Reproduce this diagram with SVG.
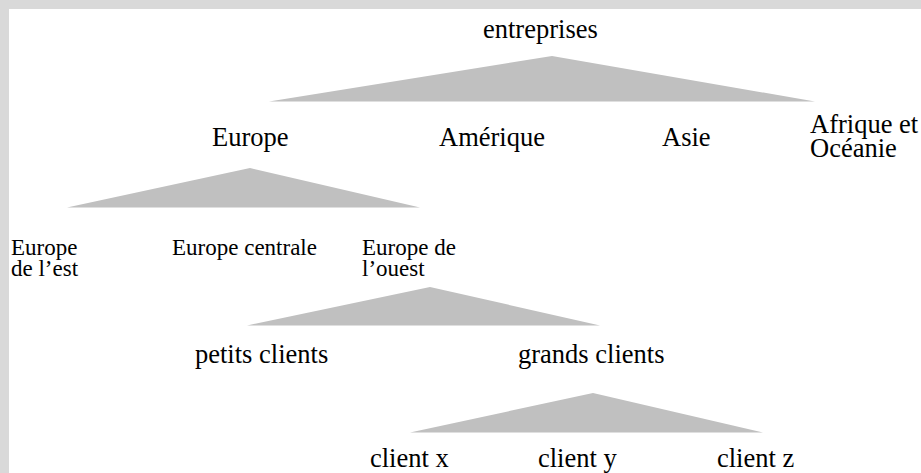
<svg xmlns="http://www.w3.org/2000/svg" width="921" height="473" viewBox="0 0 921 473">
<style>
.bg{fill:#ffffff}
.frame{fill:#d9d9d9}
.tri{fill:#c0c0c0;stroke:none}
.lg{font-family:"Liberation Serif","Times New Roman",serif;font-size:26.5px;fill:#000}
.sm{font-family:"Liberation Serif","Times New Roman",serif;font-size:23px;fill:#000}
</style>
<rect class="bg" x="0" y="0" width="921" height="473"/>
<rect class="frame" x="0" y="0" width="921" height="9"/>
<rect class="frame" x="0" y="0" width="9" height="473"/>
<g id="connectors">
<polygon class="tri" points="552,56 815,101.5 269,101.5"/>
<polygon class="tri" points="250,168 420,207.5 67,207.5"/>
<polygon class="tri" points="430,287 600,325.5 247,325.5"/>
<polygon class="tri" points="593,393 763,432.5 410,432.5"/>
</g>
<g id="n-entreprises"><text class="lg" x="483" y="38">entreprises</text></g>
<g id="n-europe"><text class="lg" x="212" y="146">Europe</text></g>
<g id="n-amerique"><text class="lg" x="439" y="146">Amérique</text></g>
<g id="n-asie"><text class="lg" x="662" y="146">Asie</text></g>
<g id="n-afrique"><text class="lg" x="810" y="133">Afrique et<tspan x="810" dy="24">Océanie</tspan></text></g>
<g id="n-europe-est"><text class="sm" x="11" y="255">Europe<tspan x="11" dy="21">de l’est</tspan></text></g>
<g id="n-europe-centrale"><text class="sm" x="172" y="255">Europe centrale</text></g>
<g id="n-europe-ouest"><text class="sm" x="362" y="255">Europe de<tspan x="362" dy="21">l’ouest</tspan></text></g>
<g id="n-petits"><text class="lg" x="195" y="363">petits clients</text></g>
<g id="n-grands"><text class="lg" x="518" y="363">grands clients</text></g>
<g id="n-client-x"><text class="lg" x="370" y="467">client x</text></g>
<g id="n-client-y"><text class="lg" x="538" y="467">client y</text></g>
<g id="n-client-z"><text class="lg" x="717" y="467">client z</text></g>
</svg>
